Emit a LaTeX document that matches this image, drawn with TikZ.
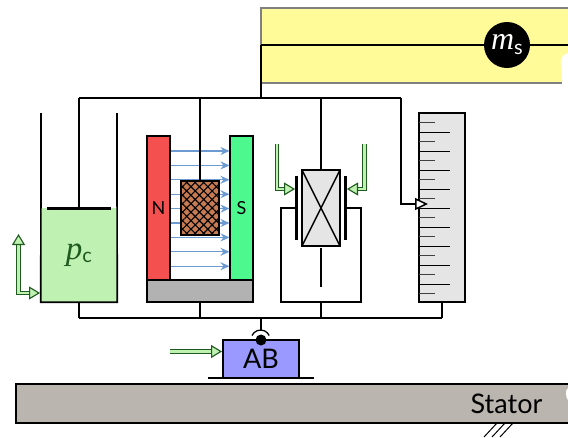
\documentclass[tikz,border=0pt]{standalone}
\usepackage{fontspec}
\setmainfont{Lato}
\newfontfamily\mathfont{Liberation Serif}
\usetikzlibrary{arrows.meta, patterns.meta}
\definecolor{tankfill}{HTML}{BFF2B2}
\definecolor{flowfill}{HTML}{BFF2B2}
\definecolor{flowline}{HTML}{1F5A1F}
\definecolor{shaftfill}{HTML}{FFFB99}
\definecolor{northfill}{HTML}{F55050}
\definecolor{southfill}{HTML}{4DF88F}
\definecolor{coilfill}{HTML}{C77B52}
\definecolor{fieldline}{HTML}{6C9BD2}
\definecolor{drivefill}{HTML}{9999FF}
\definecolor{statorfill}{HTML}{BBB5AF}
\begin{document}
\begin{tikzpicture}[
   x = 1pt, y = -1pt,
   box/.style = {draw, line width=2pt, inner sep=0pt, outer sep=0pt},
  link/.style = {line width=1.7pt},
 plate/.style = {line width=3pt},
 flowtip/.tip = {Triangle[length=11pt, width=13pt, fill=flowfill, line width=1.1pt]},
  flow/.style = {draw=flowline, line width=1.1pt, double=flowfill, double distance=2.4pt, -flowtip},
 field/.style = {draw=fieldline, line width=1.3pt, -{Stealth[length=9pt, width=8pt]}},
  tick/.style = {line width=1pt}
                        ]
\useasboundingbox (0,0) rectangle (568,437);
% foundation hatching
    \foreach \hx in {484,492,500}
        \draw[line width=1pt] (\hx,437) -- ++(13,-14);
% stator
    \fill[statorfill] (15.5,383.5) rectangle (568,422.5);
    \draw[line width=2pt] (568,383.5) -- (15.5,383.5) -- (15.5,422.5) -- (568,422.5);
    \node[font=\fontsize{27}{27}\selectfont, inner sep=0pt] (stator) at (506.5,404) {Stator};
% shaft
    \fill[shaftfill] (261,8) rectangle (568,83);
    \draw[gray, line width=1.5pt] (568,8) -- (261,8) -- (261,83) -- (568,83);
    \coordinate (shaftL) at (261,45);
    \coordinate (shaftR) at (568,45);
    \draw[link] (shaftL) -- (shaftR);
    \node[circle, fill=black, minimum size=46pt, inner sep=0pt, text=white] (inertia) at (507,45)
        {\mathfont\fontsize{32}{32}\selectfont\textit{m}\raisebox{-5pt}{\fontsize{20}{20}\selectfont\normalfont s}};
% buses
    \coordinate (busTL) at (79,98);
    \coordinate (busTM) at (200,98);
    \coordinate (busTC) at (321,98);
    \coordinate (busTR) at (401,98);
    \coordinate (busBL) at (79,318);
    \coordinate (busBR) at (442,318);
    \draw[link] (busTL) -- (busTR);
    \draw[link] (busBL) -- (busBR);
    \draw[link] (shaftL) -- (261,98);
% tank
    \node[fill=tankfill, minimum width=76pt, minimum height=94pt, inner sep=0pt, text=flowline] (tank) at (79,255)
        {\mathfont\fontsize{33}{33}\selectfont\textit{p}\raisebox{-3pt}{\fontsize{20}{20}\selectfont\normalfont c}};
    \draw[link] (41,113) -- (tank.south west) -- (tank.south east) -- (117,113);
    \draw[plate] (47,208) -- (111,208);
    \draw[link] (tank.north) -- (busTL);
    \draw[link] (tank.south) -- (busBL);
    \draw[flow, flowtip-flowtip] (18.5,234) -- (18.5,293) -- (40,293);
% magnet
    \node[box, fill=northfill, minimum width=23pt, minimum height=144pt, font=\fontsize{18}{18}\selectfont] (north) at (158.5,208) {N};
    \node[box, fill=southfill, minimum width=23pt, minimum height=144pt, font=\fontsize{18}{18}\selectfont] (south) at (241.5,208) {S};
    \node[box, fill=black!30, minimum width=106pt, minimum height=22pt] (yoke) at (200,291) {};
    \foreach \fy in {0,...,8}
        \draw[field] (171,151+14.4*\fy) -- (229.5,151+14.4*\fy);
    \node[box, preaction={fill=coilfill}, pattern={Hatch[angle=45, distance=6pt, line width=1.1pt]},
          minimum width=38pt, minimum height=54pt] (coil) at (200,208) {};
    \draw[link] (coil.north) -- (busTM);
    \draw[link] (yoke.south) -- (yoke.south |- busBL);
% clutch
    \node[box, fill=black!10, minimum width=38pt, minimum height=76pt] (clutch) at (321,208) {};
    \draw[line width=1.5pt] (clutch.north west) -- (clutch.south east);
    \draw[line width=1.5pt] (clutch.north east) -- (clutch.south west);
    \draw[link] (clutch.north) -- (busTC);
    \draw[link] (321,247.5) -- (321,287);
    \draw[plate] (296.5,176) -- (296.5,240);
    \draw[plate] (345.5,176) -- (345.5,240);
    \coordinate (loopB) at (321,302);
    \draw[link] (296.5,208) -| (281,302) -- (361,302) |- (345.5,208);
    \draw[link] (loopB) -- (loopB |- busBL);
    \draw[flow] (277,144) -- (277,189) -- (295,189);
    \draw[flow] (364.5,144) -- (364.5,189) -- (347,189);
% scale
    \node[box, fill=black!10, minimum width=46pt, minimum height=189pt] (scale) at (442,207.5) {};
    \foreach \ty in {0,2,...,18}
        \draw[tick, black!75] (419,122.7+9.5*\ty) -- ++(16,0);
    \foreach \ty in {1,3,...,17}
        \draw[tick] (419,122.7+9.5*\ty) -- ++(31,0);
    \draw[link] (scale.south) -- (busBR);
    \draw[link, -{Triangle[length=13pt, width=12pt, fill=white, line width=1.5pt]}] (busTR) -- (401,204) -- (428,204);
% drive
    \node[box, fill=drivefill, minimum width=76pt, minimum height=38pt, font=\fontsize{27}{27}\selectfont] (drive) at (261,359) {AB};
    \draw[line width=1.5pt] (208,378) -- (314,378);
    \fill (drive.north) circle (5.5pt);
    \draw[line width=1.3pt] (252,335.5) arc[start angle=155, end angle=25, radius=9.5pt];
    \draw[link] (261,318) -- (261,331);
    \draw[flow] (170,351.5) -- (222,351.5);
% torn edges
    \fill[white] (568,53) .. controls (562,54) and (560,60) .. (561,66) .. controls (562,72) and (562,78) .. (562,84) -- (568,84) -- cycle;
    \fill[white] (568,388) .. controls (566,390) and (565.5,392) .. (566,394) .. controls (566,397) and (567,399) .. (568,400) -- cycle;
\end{tikzpicture}
\end{document}
